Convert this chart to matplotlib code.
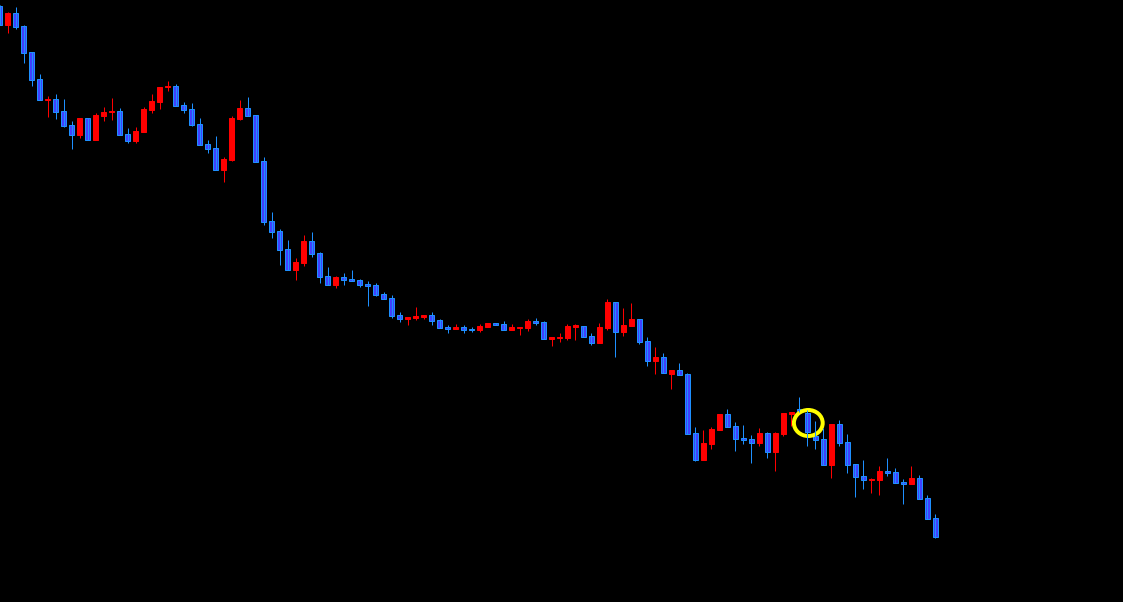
import matplotlib
matplotlib.use("Agg")
import matplotlib.pyplot as plt
from matplotlib.patches import Ellipse
import numpy as np

# OHLC values, one per bar
opens = [119.94, 119.75, 119.87, 119.74, 119.48, 119.21, 119.00, 119.01, 118.89, 118.75,
         118.65, 118.82, 118.60, 118.84, 118.88, 118.89, 118.66, 118.59, 118.68, 118.90,
         118.98, 119.13, 119.14, 118.95, 118.91, 118.76, 118.56, 118.52, 118.30, 118.40,
         118.81, 118.92, 118.85, 118.39, 117.79, 117.69, 117.51, 117.30, 117.37, 117.59,
         117.47, 117.24, 117.15, 117.23, 117.21, 117.20, 117.16, 117.15, 117.06, 117.02,
         116.85, 116.81, 116.82, 116.83, 116.85, 116.80, 116.73, 116.71, 116.73, 116.71,
         116.70, 116.73, 116.77, 116.76, 116.70, 116.72, 116.72, 116.79, 116.78, 116.61,
         116.62, 116.62, 116.73, 116.74, 116.64, 116.57, 116.72, 116.98, 116.68, 116.74,
         116.81, 116.59, 116.39, 116.43, 116.26, 116.30, 116.26, 115.67, 115.40, 115.56,
         115.70, 115.86, 115.74, 115.62, 115.61, 115.57, 115.67, 115.48, 115.66, 115.86,
         115.91, 115.87, 115.64, 115.61, 115.35, 115.76, 115.58, 115.36, 115.24, 115.20,
         115.20, 115.29, 115.28, 115.18, 115.16, 115.22, 115.02, 114.82]
highs = [119.95, 119.88, 119.93, 119.75, 119.48, 119.26, 119.04, 119.06, 119.01, 118.79,
         118.82, 118.82, 118.87, 118.93, 119.02, 118.92, 118.72, 118.73, 118.93, 119.06,
         119.13, 119.19, 119.16, 118.98, 118.97, 118.82, 118.60, 118.64, 118.43, 118.84,
         119.00, 119.03, 118.85, 118.43, 117.88, 117.71, 117.60, 117.42, 117.65, 117.68,
         117.48, 117.33, 117.24, 117.27, 117.30, 117.21, 117.19, 117.17, 117.08, 117.05,
         116.88, 116.83, 116.93, 116.85, 116.88, 116.81, 116.75, 116.76, 116.75, 116.73,
         116.76, 116.77, 116.77, 116.79, 116.76, 116.73, 116.81, 116.82, 116.79, 116.63,
         116.67, 116.76, 116.76, 116.74, 116.67, 116.77, 117.01, 116.98, 116.92, 116.97,
         116.81, 116.63, 116.53, 116.47, 116.30, 116.37, 116.27, 115.73, 115.70, 115.73,
         115.86, 115.91, 115.78, 115.75, 115.65, 115.72, 115.68, 115.68, 115.87, 115.88,
         116.03, 115.90, 115.79, 115.72, 115.76, 115.80, 115.66, 115.36, 115.40, 115.22,
         115.34, 115.42, 115.32, 115.21, 115.34, 115.25, 115.05, 114.86]
lows = [119.75, 119.67, 119.71, 119.37, 119.14, 119.00, 118.83, 118.81, 118.73, 118.51,
        118.62, 118.60, 118.60, 118.79, 118.80, 118.65, 118.57, 118.57, 118.68, 118.87,
        118.91, 119.09, 118.94, 118.87, 118.74, 118.55, 118.47, 118.30, 118.18, 118.39,
        118.80, 118.84, 118.38, 117.75, 117.62, 117.35, 117.30, 117.20, 117.34, 117.43,
        117.17, 117.15, 117.12, 117.15, 117.19, 117.13, 116.94, 117.04, 117.01, 116.82,
        116.78, 116.75, 116.80, 116.81, 116.75, 116.72, 116.67, 116.71, 116.67, 116.68,
        116.68, 116.73, 116.75, 116.70, 116.70, 116.65, 116.69, 116.75, 116.61, 116.54,
        116.58, 116.60, 116.60, 116.63, 116.55, 116.57, 116.70, 116.43, 116.64, 116.74,
        116.56, 116.34, 116.26, 116.27, 116.11, 116.25, 115.66, 115.39, 115.40, 115.51,
        115.70, 115.73, 115.49, 115.56, 115.37, 115.54, 115.42, 115.29, 115.64, 115.74,
        115.88, 115.54, 115.51, 115.35, 115.22, 115.54, 115.27, 115.03, 115.11, 115.07,
        115.05, 115.24, 115.17, 114.96, 115.16, 115.01, 114.81, 114.62]
closes = [119.75, 119.87, 119.73, 119.47, 119.20, 119.00, 119.01, 118.88, 118.74, 118.65,
          118.82, 118.60, 118.85, 118.88, 118.89, 118.65, 118.59, 118.69, 118.91, 118.99,
          119.13, 119.14, 118.94, 118.90, 118.75, 118.55, 118.51, 118.30, 118.41, 118.82,
          118.92, 118.84, 118.38, 117.78, 117.68, 117.50, 117.30, 117.38, 117.59, 117.46,
          117.23, 117.15, 117.23, 117.20, 117.19, 117.15, 117.14, 117.05, 117.01, 116.84,
          116.81, 116.83, 116.84, 116.85, 116.79, 116.72, 116.71, 116.73, 116.70, 116.70,
          116.74, 116.77, 116.75, 116.70, 116.73, 116.73, 116.79, 116.77, 116.61, 116.63,
          116.63, 116.74, 116.75, 116.63, 116.57, 116.73, 116.98, 116.68, 116.75, 116.81,
          116.58, 116.39, 116.43, 116.27, 116.30, 116.25, 115.66, 115.40, 115.57, 115.71,
          115.86, 115.73, 115.61, 115.60, 115.57, 115.67, 115.48, 115.67, 115.87, 115.88,
          115.89, 115.68, 115.60, 115.35, 115.76, 115.57, 115.35, 115.23, 115.20, 115.21,
          115.29, 115.27, 115.17, 115.16, 115.22, 115.01, 114.81, 114.63]

# marked bar (yellow circle)
mark_bar = 101
mark_price = 115.77

o = np.array(opens)
h = np.array(highs)
l = np.array(lows)
c = np.array(closes)
x = np.arange(len(o))
up = c >= o

px = 1 / 100 * 72  # one pixel in points

fig = plt.figure(figsize=(11.23, 6.02), dpi=100, facecolor='black')
ax = fig.add_axes([0, 0, 1, 1])
ax.set_facecolor('black')

# wicks
ax.vlines(x[up], l[up], h[up], color='#ff0000', lw=px)
ax.vlines(x[~up], l[~up], h[~up], color='#1e90ff', lw=px)

# bodies
lo = np.minimum(o, c)
hgt = np.abs(c - o)
ax.bar(x[up], hgt[up], bottom=lo[up], width=0.6, color='#ff0000',
       edgecolor='#ff0000', linewidth=px)
ax.bar(x[~up], hgt[~up], bottom=lo[~up], width=0.6, color='#4040ff',
       edgecolor='#1e90ff', linewidth=px)

ax.add_patch(Ellipse((mark_bar + 0.1, mark_price), 3.6, 0.26, fill=False,
                     edgecolor='#ffff00', linewidth=4 * px))

ax.set_xlim(0.06, 140.44)
ax.set_ylim(113.98, 120.0)
ax.axis('off')

fig.savefig('out.png', dpi=100, facecolor='black')
